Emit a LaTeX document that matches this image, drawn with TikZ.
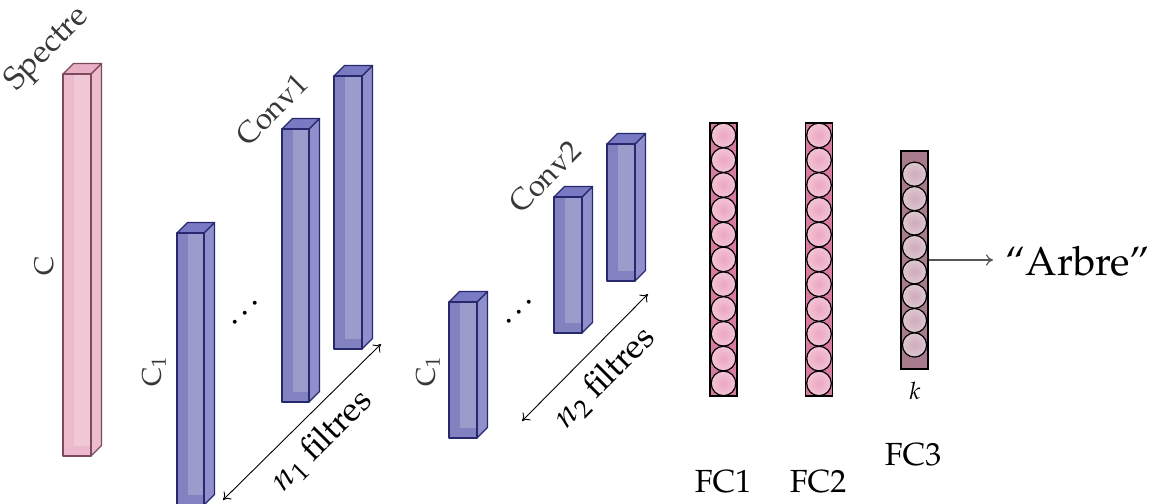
\documentclass[tikz,border=0pt]{standalone}
\usepackage[T1]{fontenc}
\usepackage{mathpazo}
\usetikzlibrary{arrows.meta}
\definecolor{pkfront}{HTML}{ECBACC}
\definecolor{pklight}{HTML}{F1C8D6}
\definecolor{pkside}{HTML}{EDBDCF}
\definecolor{pktop}{HTML}{E9AFC4}
\definecolor{pkline}{HTML}{7B4B5D}
\definecolor{blfront}{HTML}{8282C0}
\definecolor{bllight}{HTML}{9B9BCC}
\definecolor{blside}{HTML}{8F8FCC}
\definecolor{bltop}{HTML}{7A7AC4}
\definecolor{blline}{HTML}{28286E}
\definecolor{fcfill}{HTML}{D77B9E}
\definecolor{fcin}{HTML}{ECA6C1}
\definecolor{fcout}{HTML}{F3C4D5}
\definecolor{fcthreefill}{HTML}{A87B8C}
\definecolor{fcthreein}{HTML}{CFAAB9}
\definecolor{fcthreeout}{HTML}{DDC9D1}
\definecolor{outarrow}{HTML}{555555}
\newcommand\prismbox[5]{%
  \fill[#5front] (#1,#2) rectangle (#3,#4);
  \fill[#5light] (#1+10.5,#2) rectangle (#3,#4-10.5);
  \filldraw[fill=#5side, draw=#5line, boxedge] (#3,#2) -- (#3+10.5,#2-10.5) -- (#3+10.5,#4-10.5) -- (#3,#4) -- cycle;
  \filldraw[fill=#5top, draw=#5line, boxedge] (#1,#2) -- (#1+10.5,#2-10.5) -- (#3+10.5,#2-10.5) -- (#3,#2) -- cycle;
  \draw[#5line, boxedge] (#1,#2) rectangle (#3,#4);
}
\tikzset{
  boxedge/.style={line width=0.65pt, line join=round},
  graylabel/.style={text=black!78, inner sep=0pt, font=\fontsize{13.5}{16}\selectfont},
  titlelabel/.style={text=black!78, inner sep=0pt, rotate=45},
  filterlabel/.style={inner sep=0pt, rotate=45, font=\fontsize{17}{20}\selectfont},
  fclabel/.style={inner sep=0pt, font=\fontsize{16}{19}\selectfont},
  dotslabel/.style={inner sep=0pt, rotate=45, font=\fontsize{17}{20}\selectfont},
  fcbox/.style={draw=black, line width=0.7pt, fill=fcfill, minimum width=13.5pt, inner sep=0pt},
  fcthreebox/.style={draw=black, line width=0.7pt, fill=fcthreefill, minimum width=13.5pt, inner sep=0pt},
  neuron/.style={draw=black, line width=0.6pt, inner color=fcin, outer color=fcout},
  neuronthree/.style={draw=black, line width=0.6pt, inner color=fcthreein, outer color=fcthreeout},
  dimarrow/.style={{To[length=3.5pt,width=5.5pt]}-{To[length=3.5pt,width=5.5pt]}, line width=0.45pt, black},
  outarrowstyle/.style={-{To[length=3.5pt,width=5.5pt]}, line width=0.6pt, outarrow},
}
\begin{document}
\begin{tikzpicture}[x=0.5pt,y=-0.5pt]
\useasboundingbox (0,0) rectangle (1155,503);
\clip (0,0) rectangle (1155,503);

% Input spectrum
\prismbox{63}{74}{91}{456}{pk}
\node[titlelabel, font=\fontsize{16}{19}\selectfont] (spectre) at (48,50) {Spectre};
\node[graylabel, rotate=90] (clab) at (44,266) {C};

% Conv1
\prismbox{177}{233}{204}{505}{bl}
\prismbox{282}{129}{309}{402}{bl}
\prismbox{334}{76}{362}{349}{bl}
\node[titlelabel, font=\fontsize{15}{18}\selectfont] (conv1) at (272,110) {Conv1};
\node[graylabel, rotate=90] (c1a) at (154,371) {C$_1$};
\node[dotslabel] (dots1) at (247,311) {\ldots};
\coordinate (n1a) at (223,500);
\coordinate (n1b) at (381,344);
\draw[dimarrow] (n1a) -- (n1b);
\node[filterlabel] (n1lab) at (322,441) {$n_1$ filtres};

% Conv2
\prismbox{449}{302}{477}{438}{bl}
\prismbox{554}{197}{582}{333}{bl}
\prismbox{607}{144}{635}{281}{bl}
\node[titlelabel, font=\fontsize{15}{18}\selectfont] (conv2) at (545,177) {Conv2};
\node[graylabel, rotate=90] (c1b) at (428,371) {C$_1$};
\node[dotslabel] (dots2) at (521,310) {\ldots};
\coordinate (n2a) at (522,421);
\coordinate (n2b) at (648,294);
\draw[dimarrow] (n2a) -- (n2b);
\node[filterlabel] (n2lab) at (605,378) {$n_2$ filtres};

% FC1
\node[fcbox, minimum height=136.5pt] (fc1) at (723.5,259.5) {};
\foreach \i in {0,...,10} {
  \shade[neuron] (723.5,135.4+24.8*\i) circle[radius=6.15pt];
}
\node[fclabel] (fc1lab) at (723,482) {FC1};

% FC2
\node[fcbox, minimum height=136.5pt] (fc2) at (819,259.5) {};
\foreach \i in {0,...,10} {
  \shade[neuron] (819,135.4+24.8*\i) circle[radius=6.15pt];
}
\node[fclabel] (fc2lab) at (818,482) {FC2};

% FC3
\node[fcthreebox, minimum height=109pt] (fc3) at (914.5,260) {};
\foreach \i in {0,...,7} {
  \shade[neuronthree] (914.5,174.2+24.4*\i) circle[radius=6.05pt];
}
\node[inner sep=0pt, font=\fontsize{12}{14}\selectfont] (klab) at (915,391) {$k$};
\node[fclabel] (fc3lab) at (913,455) {FC3};

% Output
\node[anchor=west, inner sep=0pt, font=\fontsize{20.2}{24}\selectfont] (arbre) at (1005,261) {``Arbre''};
\coordinate (outend) at (993,260);
\draw[outarrowstyle] (fc3.east |- outend) -- (outend);
\end{tikzpicture}
\end{document}
